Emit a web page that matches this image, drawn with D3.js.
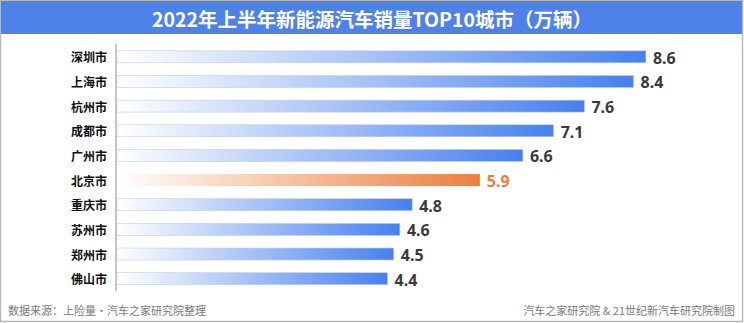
<!DOCTYPE html>
<html><head><meta charset="utf-8">
<script src="https://cdn.jsdelivr.net/npm/d3@7"></script>
<style>body{margin:0;background:#fff;}svg{display:block;font-family:"Noto Sans CJK SC","Noto Sans",sans-serif;}</style>
</head><body>
<script>
const cities = ["深圳市","上海市","杭州市","成都市","广州市","北京市","重庆市","苏州市","郑州市","佛山市"];
const sales = [8.6,8.4,7.6,7.1,6.6,5.9,4.8,4.6,4.5,4.4];
const highlight = "北京市";
const title = "2022年上半年新能源汽车销量TOP10城市（万辆）";
const sourceText = "数据来源：上险量•汽车之家研究院整理";
const creditText = "汽车之家研究院 & 21世纪新汽车研究院制图";

const W = 744, H = 323;
const svg = d3.select("body").append("svg").attr("width", W).attr("height", H);
const defs = svg.append("defs");
function grad(id, c){
  const g = defs.append("linearGradient").attr("id", id).attr("x1","0%").attr("x2","100%").attr("y1","0%").attr("y2","0%");
  g.append("stop").attr("offset","0%").attr("stop-color","#ffffff");
  g.append("stop").attr("offset","100%").attr("stop-color",c);
}
grad("gBlue", "#4680ef");
grad("gOrange", "#ec7f3c");

// frame
svg.append("rect").attr("x",0.5).attr("y",0.5).attr("width",W-2).attr("height",H-2)
  .attr("fill","#fff").attr("stroke","#b8b8b8").attr("stroke-width",1.5);
// title band
svg.append("rect").attr("x",1).attr("y",1).attr("width",W-3).attr("height",33).attr("fill","#4f82e8");
svg.append("text").attr("x",W/2).attr("y",18).attr("text-anchor","middle").attr("dominant-baseline","central")
  .attr("fill","#fff").attr("font-size",19.5).attr("font-weight","bold").text(title);

const x = d3.scaleLinear().domain([0, 10]).range([117, 117 + 615]);
const y = d3.scaleBand().domain(cities).range([44.5, 291]).paddingInner(0.5).paddingOuter(0.25);

svg.append("line").attr("x1",116).attr("x2",116).attr("y1",44).attr("y2",291)
  .attr("stroke","#a0a0a0").attr("stroke-width",1.2);

const rows = svg.append("g").selectAll("g").data(cities).join("g");
rows.append("rect")
  .attr("x", x(0))
  .attr("y", d => y(d) + y.bandwidth()/2 - 6)
  .attr("width", (d,i) => x(sales[i]) - x(0))
  .attr("height", 12)
  .attr("fill", d => d === highlight ? "url(#gOrange)" : "url(#gBlue)")
  .attr("stroke", d => d === highlight ? "none" : "#c4cde0").attr("stroke-width",0.6);
rows.append("text")
  .attr("x", 107).attr("y", d => y(d) + y.bandwidth()/2)
  .attr("text-anchor","end").attr("dominant-baseline","central")
  .attr("font-size",12).attr("font-weight","bold").attr("fill","#111").text(d => d);
rows.append("text")
  .attr("x", (d,i) => x(sales[i]) + 7).attr("y", d => y(d) + y.bandwidth()/2 + 1)
  .attr("dominant-baseline","central")
  .attr("font-family","'Noto Sans','Open Sans',sans-serif")
  .attr("font-size",16).attr("font-weight","bold")
  .attr("fill", d => d === highlight ? "#e8803c" : "#3a3a3a")
  .text((d,i) => sales[i].toFixed(1));

svg.append("text").attr("x",8).attr("y",310).attr("dominant-baseline","central")
  .attr("font-size",11).attr("fill","#7a7a7a").text(sourceText);
svg.append("text").attr("x",735).attr("y",310).attr("text-anchor","end").attr("dominant-baseline","central")
  .attr("font-size",11).attr("fill","#7a7a7a").text(creditText);
</script>
</body></html>
